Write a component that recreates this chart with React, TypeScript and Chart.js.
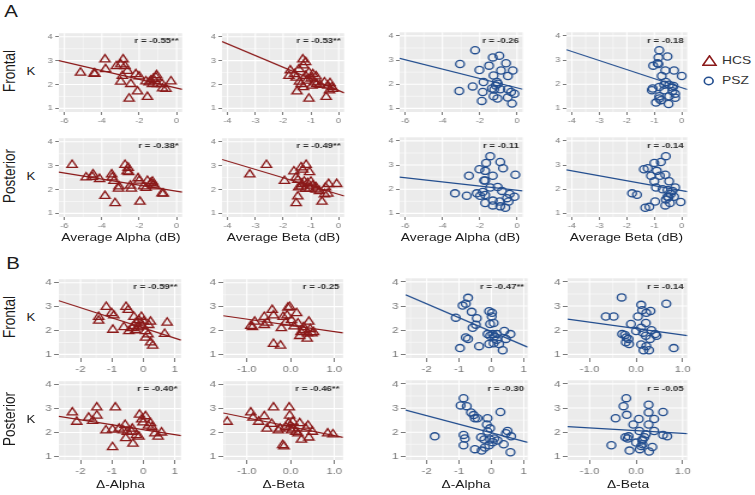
import React, { useEffect, useRef } from "react";
import { Chart, registerables } from "chart.js";
Chart.register(...registerables);

// The whole reference figure is stretched horizontally.
const S = 1.2;
const FONT = "'Liberation Sans', Arial, Helvetica, sans-serif";
const HCS_COLOR = "#8B1A1A";
const PSZ_COLOR = "#234E8F";
const TICK_COLOR = "#7A7A7A";

// ---------- tick labels / axis limits ----------
const kTicks = [1, 2, 3, 4];
const kLimits = [0.85, 4.15];
const alphaTicks = [-6, -4, -2, 0];
const betaTicks = [-4, -3, -2, -1, 0];
const dAlphaTicks = [-2, -1, 0, 1];
const dBetaTicks = [-1, 0, 1];
const dBetaTickLabels = ["-1.0", "0.0", "1.0"];
const alphaLimits = [-6.3, 0.3];
const betaLimits = [-4.2, 0.2];
const dAlphaHcsLimits = [-2.69, 1.2];
const dAlphaPszLimits = [-2.65, 1.12];
const dBetaHcsLimits = [-1.54, 1.2];
const dBetaPszLimits = [-1.47, 1.1];

const rLabels = [
  "r = -0.55**", "r = -0.53**", "r = -0.26", "r = -0.18",
  "r = -0.38*", "r = -0.49**", "r = -0.11", "r = -0.14",
  "r = -0.59**", "r = -0.25", "r = -0.47**", "r = -0.14",
  "r = -0.40*", "r = -0.46**", "r = -0.30", "r = -0.05",
];

// ---------- A: Frontal ----------
const frontalAlphaHcsX = [-5.14, -4.42, -4.37, -3.83, -3.8, -3.22, -2.99, -2.86, -2.76, -2.9, -2.99, -2.45, -2.54, -2.18, -2.0, -2.09, -1.56, -1.47, -1.38, -1.25, -1.1, -1.07, -1.29, -1.02, -0.78, -0.75, -0.57, -0.3, -1.64, -2.63];
const frontalAlphaHcsY = [2.5, 2.46, 2.45, 3.05, 2.64, 2.77, 2.84, 3.05, 2.77, 2.36, 2.12, 2.02, 1.41, 2.43, 2.34, 1.71, 1.48, 2.09, 2.16, 2.23, 2.3, 2.39, 2.02, 2.02, 2.02, 1.84, 1.82, 2.13, 2.13, 2.57];
const frontalAlphaHcsFit = [[-6.3, 3.0], [0.3, 1.8]];

const frontalBetaHcsX = [-1.74, -1.59, -1.53, -1.43, -1.41, -1.5, -1.29, -1.19, -1.27, -1.19, -1.15, -1.07, -0.99, -0.93, -0.87, -0.81, -0.79, -1.07, -0.96, -0.67, -0.51, -0.39, -0.31, -0.24, -0.33, -0.45, -1.35, -1.27, -1.79, -0.21];
const frontalBetaHcsY = [2.59, 2.43, 2.29, 2.64, 2.12, 1.71, 3.05, 2.94, 2.8, 2.36, 2.16, 2.5, 2.25, 2.43, 2.09, 2.34, 2.02, 1.41, 1.95, 1.98, 2.09, 1.95, 2.06, 1.89, 1.75, 1.48, 2.02, 1.89, 2.36, 1.82];
const frontalBetaHcsFit = [[-4.2, 3.8], [0.2, 1.65]];

const frontalAlphaPszX = [-2.25, -3.06, -3.1, -2.38, -2.02, -1.8, -1.84, -1.89, -1.5, -1.3, -0.95, -1.26, -1.08, -1.14, -1.35, -1.23, -1.26, -1.05, -0.86, -0.59, -0.49, -0.23, -0.49, -0.32, -0.14, -0.5, -0.27, -0.9, -1.03];
const frontalAlphaPszY = [3.41, 2.84, 1.72, 1.91, 2.59, 2.09, 1.68, 1.31, 2.77, 3.11, 3.18, 2.36, 2.09, 1.95, 1.82, 1.78, 1.5, 1.41, 2.57, 2.87, 2.34, 2.57, 1.79, 1.68, 1.61, 1.45, 1.2, 1.79, 2.02];
const frontalAlphaPszFit = [[-6.3, 3.07], [0.3, 1.79]];

const frontalBetaPszX = [-0.82, -0.85, -0.52, -0.88, -1.04, -0.85, -0.6, -0.28, 0.0, -0.73, -0.58, -0.46, -0.3, -0.82, -1.06, -1.09, -0.64, -0.34, -0.24, -0.82, -0.46, -0.24, -0.76, -0.94, -0.48, -0.82, -0.34, -0.64];
const frontalBetaPszY = [3.41, 3.11, 3.15, 2.87, 2.77, 2.84, 2.57, 2.57, 2.34, 2.34, 2.09, 1.98, 1.93, 1.89, 1.82, 1.75, 1.75, 1.71, 1.61, 1.5, 1.5, 1.44, 1.34, 1.24, 1.18, 1.41, 1.86, 1.98];
const frontalBetaPszFit = [[-4.2, 3.43], [0.2, 1.78]];

// ---------- A: Posterior ----------
const posteriorAlphaHcsX = [-5.59, -4.84, -4.47, -4.51, -4.12, -3.47, -3.44, -3.35, -3.83, -3.29, -3.08, -3.11, -2.76, -2.59, -2.65, -2.56, -2.47, -2.42, -2.06, -2.0, -1.96, -1.77, -1.56, -1.38, -1.29, -1.25, -1.14, -0.78, -0.71, -1.64];
const posteriorAlphaHcsY = [3.03, 2.51, 2.63, 2.53, 2.44, 2.63, 2.51, 2.36, 1.73, 1.43, 2.13, 2.04, 3.03, 2.91, 2.76, 2.73, 2.16, 2.04, 2.47, 2.37, 1.49, 2.13, 2.36, 2.27, 2.33, 2.2, 2.13, 1.84, 1.83, 2.07];
const posteriorAlphaHcsFit = [[-6.3, 2.73], [0.3, 1.89]];

const posteriorBetaHcsX = [-3.2, -2.6, -1.95, -1.61, -1.53, -1.47, -1.35, -1.17, -1.29, -1.05, -1.44, -1.32, -1.24, -1.12, -1.0, -0.94, -0.81, -1.2, -1.05, -1.47, -1.53, -0.6, -0.36, -0.51, -0.39, -0.07, -0.47, -1.35, -0.81, -0.69];
const posteriorBetaHcsY = [2.63, 3.03, 2.36, 2.76, 2.51, 2.4, 2.93, 3.03, 2.83, 2.73, 2.09, 2.23, 2.33, 2.27, 2.33, 2.16, 2.0, 2.03, 2.04, 1.71, 1.43, 1.49, 2.23, 1.8, 1.83, 2.23, 2.09, 2.13, 2.09, 1.93];
const posteriorBetaHcsFit = [[-4.2, 3.26], [0.2, 1.73]];

const posteriorAlphaPszX = [-3.33, -2.7, -2.58, -2.16, -2.02, -1.98, -1.84, -1.77, -1.71, -1.66, -1.44, -1.71, -1.71, -1.44, -1.3, -1.71, -1.3, -1.3, -1.04, -0.9, -0.75, -0.81, -0.93, -0.9, -0.63, -0.54, -0.45, -0.4, -0.14, -0.09];
const posteriorAlphaPszY = [1.83, 1.73, 2.56, 1.83, 2.83, 1.73, 1.89, 2.36, 2.76, 3.09, 3.37, 1.76, 2.36, 2.07, 2.56, 1.43, 1.33, 1.53, 2.09, 3.13, 2.87, 1.93, 1.49, 1.29, 1.23, 1.63, 1.49, 1.8, 1.69, 2.6];
const posteriorAlphaPszFit = [[-6.3, 2.5], [0.3, 1.93]];

const posteriorBetaPszX = [-1.81, -1.63, -1.38, -1.24, -1.33, -1.18, -1.12, -1.0, -0.76, -0.91, -1.0, -0.97, -0.8, -0.58, -0.6, -0.46, -0.94, -0.7, -0.52, -0.4, -0.24, -0.34, -0.52, -0.58, -0.43, -0.6, -0.28, -0.04, -0.48];
const posteriorBetaPszY = [1.83, 1.77, 2.83, 2.87, 1.23, 1.27, 2.56, 3.09, 3.13, 2.76, 2.33, 1.49, 2.56, 3.37, 2.6, 2.33, 2.07, 2.0, 1.97, 1.8, 2.07, 1.93, 1.69, 1.57, 1.43, 1.33, 1.69, 1.47, 1.67];
const posteriorBetaPszFit = [[-4.2, 2.8], [0.2, 1.9]];

// ---------- B: Frontal ----------
const frontalDAlphaHcsX = [-1.42, -1.42, -1.18, -1.01, -0.94, -0.97, -0.55, -0.48, -0.62, -0.3, -0.3, -0.23, -0.25, -0.14, -0.09, -0.06, -0.02, 0.01, 0.07, 0.07, 0.17, 0.23, 0.15, 0.23, 0.3, 0.68, 0.76, -0.46, -0.17, -0.36];
const frontalDAlphaHcsY = [2.57, 2.41, 2.99, 2.73, 2.63, 2.03, 2.99, 2.86, 2.14, 2.57, 2.19, 2.33, 2.01, 2.43, 2.3, 2.57, 2.17, 2.37, 1.97, 1.7, 2.23, 2.37, 1.84, 1.5, 1.37, 1.86, 2.33, 1.97, 2.13, 2.1];
const frontalDAlphaHcsFit = [[-2.69, 3.25], [1.2, 1.6]];

const frontalDBetaHcsX = [-0.82, -0.91, -0.87, -0.6, -0.42, -0.39, -0.53, -0.39, -0.23, -0.17, -0.11, -0.06, -0.02, -0.08, -0.21, 0.08, 0.14, 0.17, 0.24, 0.21, 0.38, 0.39, 0.3, 0.42, 0.45, 0.53, 0.49, 0.02, -0.6, 0.3];
const frontalDBetaHcsY = [2.37, 2.19, 2.14, 2.57, 2.86, 2.63, 2.33, 1.44, 1.37, 2.57, 2.33, 2.96, 2.99, 2.63, 2.1, 2.17, 2.73, 2.3, 1.93, 1.77, 1.66, 1.88, 2.14, 2.37, 2.06, 1.93, 1.88, 2.43, 2.23, 2.01];
const frontalDBetaHcsFit = [[-1.54, 2.62], [1.2, 1.9]];

const frontalDAlphaPszX = [-1.1, -0.97, -0.89, -0.79, -0.72, -0.79, -0.72, -0.61, -0.58, -0.45, -0.48, -0.38, -0.07, 0.02, 0.01, -0.04, 0.07, -0.12, -0.04, 0.04, 0.09, -0.07, 0.07, 0.17, 0.24, 0.4, 0.45, 0.35, 0.59, 0.17];
const frontalDAlphaPszY = [2.52, 1.26, 3.02, 3.1, 3.34, 1.7, 1.64, 2.76, 2.1, 2.5, 2.23, 1.34, 2.79, 2.72, 2.57, 2.26, 2.3, 1.84, 1.77, 1.84, 1.74, 1.43, 1.46, 1.61, 1.43, 1.97, 1.64, 1.17, 1.84, 1.84];
const frontalDAlphaPszFit = [[-2.65, 3.47], [1.12, 1.3]];

const frontalDBetaPszX = [-0.65, -0.48, -0.31, -0.11, -0.3, -0.21, -0.22, -0.16, -0.24, -0.15, 0.04, 0.11, 0.13, 0.22, 0.31, 0.21, 0.11, 0.15, 0.21, 0.33, 0.41, 0.44, 0.3, 0.11, 0.22, 0.16, 0.28, 0.65, 0.81, 0.0];
const frontalDBetaPszY = [2.57, 2.57, 3.36, 2.26, 1.84, 1.7, 1.5, 1.64, 1.8, 1.43, 2.57, 3.05, 2.83, 2.72, 2.8, 2.3, 2.1, 1.9, 1.77, 2.0, 1.84, 1.77, 1.64, 1.41, 1.34, 1.17, 1.17, 3.1, 1.26, 1.97];
const frontalDBetaPszFit = [[-1.47, 2.46], [1.1, 1.78]];

// ---------- B: Posterior ----------
const posteriorDAlphaHcsX = [-2.26, -2.12, -1.74, -1.61, -1.48, -1.48, -1.19, -0.98, -0.89, -0.98, -0.77, -0.64, -0.58, -0.51, -0.56, -0.35, -0.33, -0.22, -0.14, -0.12, -0.05, -0.01, 0.07, 0.16, 0.23, 0.28, 0.37, 0.47, 0.58, -0.37];
const posteriorDAlphaHcsY = [2.84, 2.45, 2.62, 2.49, 3.05, 2.71, 2.09, 2.12, 3.05, 1.39, 2.16, 2.09, 2.32, 2.03, 1.76, 2.16, 1.53, 1.89, 1.83, 2.75, 2.55, 2.42, 2.68, 2.29, 2.39, 2.22, 1.96, 1.83, 2.0, 2.03];
const posteriorDAlphaHcsFit = [[-2.69, 2.68], [1.2, 1.87]];

const posteriorDBetaHcsX = [-1.45, -0.91, -0.86, -0.73, -0.6, -0.54, -0.43, -0.39, -0.24, -0.18, -0.15, -0.03, -0.02, -0.05, 0.0, 0.05, 0.06, 0.12, 0.17, 0.21, 0.25, 0.35, 0.4, 0.42, 0.5, 0.85, 0.97, -0.11, -0.28, 0.02];
const posteriorDBetaHcsY = [2.45, 2.84, 2.62, 2.45, 2.68, 2.16, 2.36, 3.05, 2.16, 1.47, 1.42, 3.05, 2.71, 2.39, 2.29, 2.45, 2.16, 2.03, 1.96, 2.39, 1.7, 2.16, 2.29, 1.79, 2.03, 1.96, 1.92, 2.22, 2.09, 2.09];
const posteriorDBetaHcsFit = [[-1.54, 2.82], [1.2, 1.8]];

const posteriorDAlphaPszX = [-1.75, -0.95, -0.86, -0.76, -0.86, -0.82, -0.86, -0.63, -0.55, -0.51, -0.43, -0.51, -0.32, -0.3, -0.22, -0.2, -0.12, -0.14, -0.12, -0.04, 0.04, -0.07, 0.09, 0.19, 0.28, 0.38, 0.45, 0.5, 0.61, 0.59, -0.04];
const posteriorDAlphaPszY = [1.83, 3.11, 3.41, 3.08, 1.89, 1.74, 1.46, 2.82, 2.71, 2.58, 2.58, 1.3, 1.79, 1.24, 1.7, 1.37, 2.58, 2.32, 2.03, 1.7, 1.59, 1.46, 1.74, 1.66, 2.84, 1.5, 1.96, 2.05, 1.83, 1.17, 2.16];
const posteriorDAlphaPszFit = [[-2.65, 2.92], [1.12, 1.58]];

const posteriorDBetaPszX = [-0.53, -0.44, -0.21, -0.27, -0.2, -0.23, -0.18, -0.16, -0.06, 0.06, 0.07, -0.14, 0.0, 0.08, 0.14, 0.13, 0.18, 0.21, 0.27, 0.27, 0.27, 0.28, 0.35, 0.39, 0.39, 0.58, 0.58, 0.67, 0.14, 0.11];
const posteriorDBetaPszY = [1.46, 2.58, 3.41, 3.08, 2.72, 1.79, 1.74, 1.83, 2.32, 2.55, 2.05, 1.24, 1.57, 1.3, 1.5, 1.66, 1.79, 1.92, 3.14, 2.82, 2.32, 1.2, 1.39, 2.55, 2.05, 2.84, 1.89, 1.83, 1.7, 1.43];
const posteriorDBetaPszFit = [[-1.47, 2.23], [1.1, 1.94]];

// ---------- layout (screen pixels of the reference) ----------
const rowTops = [29.5, 134.5, 276, 378];
const PANEL_H = 82;
const colsA = [[59, 124], [222, 123], [399, 123], [566, 121]];
const colsB = [[59, 123], [223, 121], [405, 122], [568, 120]];

type PanelDef = {
  xs: number[]; ys: number[]; fit: number[][]; r: string; group: "HCS" | "PSZ";
  ticks: number[]; labels: string[] | null; limits: number[]; row: number; col: number;
};

const panels: PanelDef[] = [
  { xs: frontalAlphaHcsX, ys: frontalAlphaHcsY, fit: frontalAlphaHcsFit, r: rLabels[0], group: "HCS", ticks: alphaTicks, labels: null, limits: alphaLimits, row: 0, col: 0 },
  { xs: frontalBetaHcsX, ys: frontalBetaHcsY, fit: frontalBetaHcsFit, r: rLabels[1], group: "HCS", ticks: betaTicks, labels: null, limits: betaLimits, row: 0, col: 1 },
  { xs: frontalAlphaPszX, ys: frontalAlphaPszY, fit: frontalAlphaPszFit, r: rLabels[2], group: "PSZ", ticks: alphaTicks, labels: null, limits: alphaLimits, row: 0, col: 2 },
  { xs: frontalBetaPszX, ys: frontalBetaPszY, fit: frontalBetaPszFit, r: rLabels[3], group: "PSZ", ticks: betaTicks, labels: null, limits: betaLimits, row: 0, col: 3 },
  { xs: posteriorAlphaHcsX, ys: posteriorAlphaHcsY, fit: posteriorAlphaHcsFit, r: rLabels[4], group: "HCS", ticks: alphaTicks, labels: null, limits: alphaLimits, row: 1, col: 0 },
  { xs: posteriorBetaHcsX, ys: posteriorBetaHcsY, fit: posteriorBetaHcsFit, r: rLabels[5], group: "HCS", ticks: betaTicks, labels: null, limits: betaLimits, row: 1, col: 1 },
  { xs: posteriorAlphaPszX, ys: posteriorAlphaPszY, fit: posteriorAlphaPszFit, r: rLabels[6], group: "PSZ", ticks: alphaTicks, labels: null, limits: alphaLimits, row: 1, col: 2 },
  { xs: posteriorBetaPszX, ys: posteriorBetaPszY, fit: posteriorBetaPszFit, r: rLabels[7], group: "PSZ", ticks: betaTicks, labels: null, limits: betaLimits, row: 1, col: 3 },
  { xs: frontalDAlphaHcsX, ys: frontalDAlphaHcsY, fit: frontalDAlphaHcsFit, r: rLabels[8], group: "HCS", ticks: dAlphaTicks, labels: null, limits: dAlphaHcsLimits, row: 2, col: 0 },
  { xs: frontalDBetaHcsX, ys: frontalDBetaHcsY, fit: frontalDBetaHcsFit, r: rLabels[9], group: "HCS", ticks: dBetaTicks, labels: dBetaTickLabels, limits: dBetaHcsLimits, row: 2, col: 1 },
  { xs: frontalDAlphaPszX, ys: frontalDAlphaPszY, fit: frontalDAlphaPszFit, r: rLabels[10], group: "PSZ", ticks: dAlphaTicks, labels: null, limits: dAlphaPszLimits, row: 2, col: 2 },
  { xs: frontalDBetaPszX, ys: frontalDBetaPszY, fit: frontalDBetaPszFit, r: rLabels[11], group: "PSZ", ticks: dBetaTicks, labels: dBetaTickLabels, limits: dBetaPszLimits, row: 2, col: 3 },
  { xs: posteriorDAlphaHcsX, ys: posteriorDAlphaHcsY, fit: posteriorDAlphaHcsFit, r: rLabels[12], group: "HCS", ticks: dAlphaTicks, labels: null, limits: dAlphaHcsLimits, row: 3, col: 0 },
  { xs: posteriorDBetaHcsX, ys: posteriorDBetaHcsY, fit: posteriorDBetaHcsFit, r: rLabels[13], group: "HCS", ticks: dBetaTicks, labels: dBetaTickLabels, limits: dBetaHcsLimits, row: 3, col: 1 },
  { xs: posteriorDAlphaPszX, ys: posteriorDAlphaPszY, fit: posteriorDAlphaPszFit, r: rLabels[14], group: "PSZ", ticks: dAlphaTicks, labels: null, limits: dAlphaPszLimits, row: 3, col: 2 },
  { xs: posteriorDBetaPszX, ys: posteriorDBetaPszY, fit: posteriorDBetaPszFit, r: rLabels[15], group: "PSZ", ticks: dBetaTicks, labels: dBetaTickLabels, limits: dBetaPszLimits, row: 3, col: 3 },
];

function minorValues(ticks: number[], min: number, max: number) {
  const step = ticks[1] - ticks[0];
  const out: number[] = [];
  for (let v = ticks[0] - step / 2; v <= ticks[ticks.length - 1] + step / 2 + 1e-9; v += step) {
    if (v >= min && v <= max) out.push(v);
  }
  return out;
}

function Panel({ p }: { p: PanelDef }) {
  const ref = useRef<HTMLCanvasElement>(null);
  const big = p.row >= 2;
  const cols = big ? colsB : colsA;
  const gx = cols[p.col][0] / S;
  const gw = cols[p.col][1] / S;
  const gy = rowTops[p.row];
  const YW = 17;
  const PT = 3;
  const XH = big ? 19 : 15;
  const width = Math.ceil(gw + YW + 5);
  const PR = width - YW - gw;
  const height = Math.ceil(PANEL_H + PT + XH);
  const XHf = height - PT - PANEL_H;

  useEffect(() => {
    const canvas = ref.current!;
    const color = p.group === "HCS" ? HCS_COLOR : PSZ_COLOR;
    const tickFont = { family: FONT, size: big ? 9.5 : 7.5 };
    const xMinor = minorValues(p.ticks, p.limits[0], p.limits[1]);
    const yMinor = minorValues(kTicks, kLimits[0], kLimits[1]);
    const bg = {
      id: "ggbg",
      beforeDraw(chart: any) {
        const { ctx, chartArea: a, scales } = chart;
        ctx.save();
        ctx.fillStyle = "#EBEBEB";
        ctx.fillRect(a.left, a.top, a.right - a.left, a.bottom - a.top);
        ctx.strokeStyle = "#FFFFFF";
        const vline = (v: number, w: number) => {
          const x = scales.x.getPixelForValue(v);
          ctx.lineWidth = w;
          ctx.beginPath(); ctx.moveTo(x, a.top); ctx.lineTo(x, a.bottom); ctx.stroke();
        };
        const hline = (v: number, w: number) => {
          const y = scales.y.getPixelForValue(v);
          ctx.lineWidth = w;
          ctx.beginPath(); ctx.moveTo(a.left, y); ctx.lineTo(a.right, y); ctx.stroke();
        };
        xMinor.forEach((v) => vline(v, 0.5));
        yMinor.forEach((v) => hline(v, 0.5));
        p.ticks.forEach((v) => vline(v, 1.1));
        kTicks.forEach((v) => hline(v, 1.1));
        ctx.restore();
      },
      afterDraw(chart: any) {
        const { ctx, chartArea: a } = chart;
        ctx.save();
        ctx.fillStyle = "#2a2a2a";
        ctx.font = `bold 8px ${FONT}`;
        ctx.textAlign = "right";
        ctx.textBaseline = "middle";
        ctx.fillText(p.r, a.right - 3, a.top + 8);
        ctx.restore();
      },
    };
    const zeroPad = (s: any) => { s.paddingLeft = 0; s.paddingRight = 0; s.paddingTop = 0; s.paddingBottom = 0; };
    const chart = new Chart(canvas, {
      type: "scatter",
      data: {
        datasets: [
          {
            data: p.xs.map((x, i) => ({ x, y: p.ys[i] })),
            pointStyle: p.group === "HCS" ? "triangle" : "circle",
            pointRadius: p.group === "HCS" ? 4.9 : 3.6,
            borderColor: color,
            backgroundColor: "rgba(0,0,0,0)",
            borderWidth: 1.3,
            order: 1,
          } as any,
          {
            data: p.fit.map(([x, y]) => ({ x, y })),
            showLine: true,
            pointRadius: 0,
            borderColor: color,
            borderWidth: 1.2,
            order: 0,
          } as any,
        ],
      },
      options: {
        responsive: false,
        animation: false,
        devicePixelRatio: 1,
        events: [],
        layout: { padding: { left: 0, top: PT, right: PR, bottom: 0 } },
        plugins: { legend: { display: false }, tooltip: { enabled: false } },
        scales: {
          x: {
            type: "linear",
            min: p.limits[0],
            max: p.limits[1],
            afterBuildTicks: (s: any) => { s.ticks = p.ticks.map((v) => ({ value: v })); },
            afterFit: (s: any) => { s.height = XHf; zeroPad(s); },
            ticks: {
              font: tickFont,
              color: TICK_COLOR,
              padding: big ? 2 : 1,
              maxRotation: 0,
              autoSkip: false,
              callback: (v: any, i: number) => (p.labels ? p.labels[i] : String(p.ticks[i])),
            },
            grid: { drawOnChartArea: false, drawTicks: true, tickLength: big ? 4 : 3, color: TICK_COLOR, lineWidth: 1 },
            border: { display: false },
          },
          y: {
            type: "linear",
            min: kLimits[0],
            max: kLimits[1],
            afterBuildTicks: (s: any) => { s.ticks = kTicks.map((v) => ({ value: v })); },
            afterFit: (s: any) => { s.width = YW; zeroPad(s); },
            ticks: { font: tickFont, color: TICK_COLOR, padding: 2, callback: (v: any, i: number) => String(kTicks[i]) },
            grid: { drawOnChartArea: false, drawTicks: true, tickLength: big ? 4 : 3, color: TICK_COLOR, lineWidth: 1 },
            border: { display: false },
          },
        },
      },
      plugins: [bg],
    } as any);
    return () => chart.destroy();
  }, []);

  return (
    <canvas
      ref={ref}
      width={width}
      height={height}
      style={{ position: "absolute", left: gx - YW, top: gy - PT, width, height }}
    />
  );
}

function Txt({ x, y, size, text, rotate, weight, color, align }: any) {
  const tx = align === "left" ? "0" : "-50%";
  return (
    <div
      style={{
        position: "absolute",
        left: x / S,
        top: y,
        fontFamily: FONT,
        fontSize: size,
        fontWeight: weight || "normal",
        color: color || "#1a1a1a",
        lineHeight: 1,
        whiteSpace: "nowrap",
        transform: `translate(${tx}, -50%)${rotate ? " rotate(-90deg)" : ""}`,
      }}
    >
      {text}
    </div>
  );
}

const rowCenter = (r: number) => rowTops[r] + PANEL_H / 2;
const rowNames = ["Frontal", "Posterior", "Frontal", "Posterior"];
const xTitlesA = ["Average Alpha (dB)", "Average Beta (dB)", "Average Alpha (dB)", "Average Beta (dB)"];
const xTitlesB = ["\u0394-Alpha", "\u0394-Beta", "\u0394-Alpha", "\u0394-Beta"];

export default function App() {
  return (
    <div
      style={{
        position: "fixed",
        left: 0,
        top: 0,
        width: 755 / S,
        height: 495,
        background: "#ffffff",
        transform: `scaleX(${S})`,
        transformOrigin: "0 0",
        overflow: "hidden",
      }}
    >
      {panels.map((p, i) => <Panel key={i} p={p} />)}
      <Txt x={11} y={11} size={17} text="A" />
      <Txt x={13} y={263} size={17} text="B" />
      {rowNames.map((n, r) => <Txt key={"rn" + r} x={9} y={rowCenter(r)} size={13.5} text={n} rotate />)}
      {rowNames.map((n, r) => <Txt key={"k" + r} x={31} y={rowCenter(r)} size={11} text="K" />)}
      {xTitlesA.map((t, c) => <Txt key={"ta" + c} x={colsA[c][0] + colsA[c][1] / 2} y={238} size={11.5} text={t} />)}
      {xTitlesB.map((t, c) => <Txt key={"tb" + c} x={colsB[c][0] + colsB[c][1] / 2} y={485} size={11.5} text={t} />)}
      <svg style={{ position: "absolute", left: 702 / S, top: 55 }} width={15 / S} height={11} viewBox={`0 0 ${15 / S} 11`}>
        <polygon points={`${0.8},10.2 ${15 / S / 2},0.8 ${15 / S - 0.8},10.2`} fill="none" stroke={HCS_COLOR} strokeWidth={1.4} />
      </svg>
      <Txt x={722} y={60.5} size={11.5} text="HCS" align="left" color="#333" />
      <svg style={{ position: "absolute", left: 703 / S, top: 76 }} width={11 / S} height={10} viewBox={`0 0 ${11 / S} 10`}>
        <circle cx={11 / S / 2} cy={5} r={3.7} fill="none" stroke={PSZ_COLOR} strokeWidth={1.4} />
      </svg>
      <Txt x={722} y={81} size={11.5} text="PSZ" align="left" color="#333" />
    </div>
  );
}
